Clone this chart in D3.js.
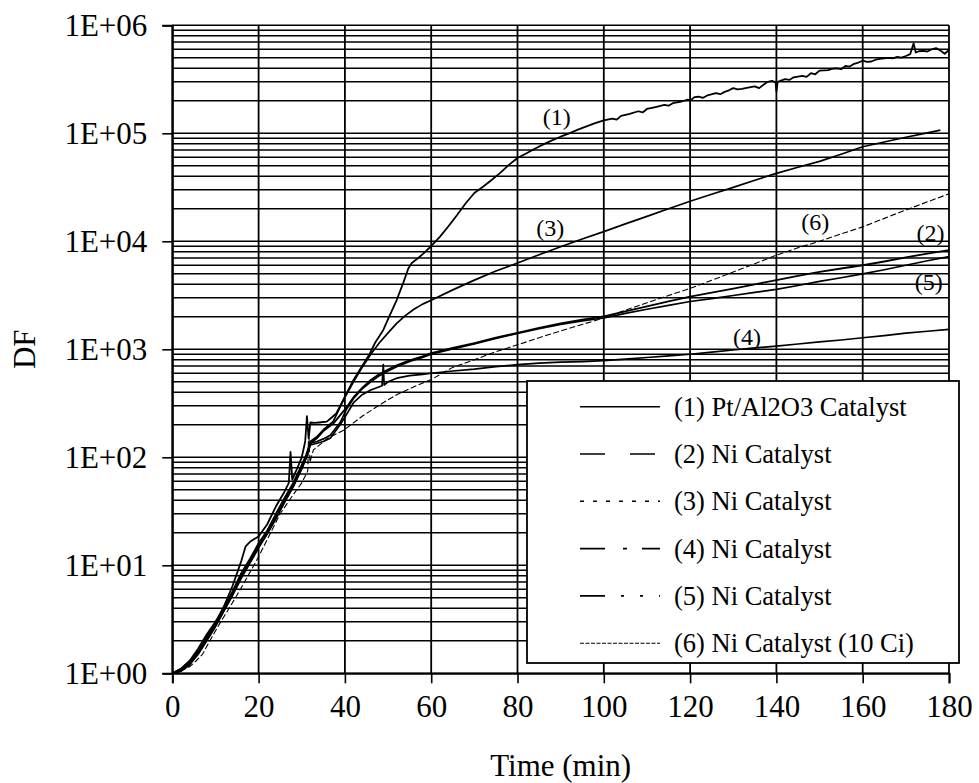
<!DOCTYPE html>
<html>
<head>
<meta charset="utf-8">
<script src="https://cdn.jsdelivr.net/npm/d3@7"></script>
<style>
  html, body { margin: 0; padding: 0; background: #fff; }
  svg { display: block; }
  text { font-family: "Liberation Serif", "Times New Roman", serif; fill: #000; }
</style>
</head>
<body>
<svg id="chart" width="979" height="783"></svg>
<script>
// Decontamination factor (DF) versus time for six catalyst runs.
// Each series is a list of [time (min), DF] pairs.

const xTickValues = [0, 20, 40, 60, 80, 100, 120, 140, 160, 180];
const yTickValues = [1, 10, 100, 1000, 10000, 100000, 1000000];
const yTickLabels = ["1E+00", "1E+01", "1E+02", "1E+03", "1E+04", "1E+05", "1E+06"];

const seriesNames = [
  "(1) Pt/Al2O3 Catalyst",
  "(2) Ni Catalyst",
  "(3) Ni Catalyst",
  "(4) Ni Catalyst",
  "(5) Ni Catalyst",
  "(6) Ni Catalyst (10 Ci)"
];

const run1 = [
  [0, 1], [2, 1.1], [4, 1.3], [6, 1.6], [8, 2.2], [10, 2.9], [12, 4.2], [14, 6.5],
  [16, 11], [17, 15], [18, 16.5], [19, 17.5], [20, 18.5], [22, 24], [24, 35], [26, 48],
  [27, 58], [27.4, 112], [27.8, 62], [29, 80], [30, 100], [30.8, 140], [31.2, 240],
  [31.6, 150], [32, 210], [33, 208], [34, 210], [35.8, 214], [37, 235], [38, 255],
  [40.4, 390], [42, 520], [44, 700], [45.8, 916], [47, 1150], [48.9, 1510], [50, 1900],
  [52, 2860], [53.5, 4100], [54.7, 5600], [55.5, 6300], [57, 7000], [58.5, 7900],
  [59.8, 8900], [62, 11000], [64, 13800], [66, 17500], [68, 22500], [70, 28000],
  [72, 32000], [74, 37000], [76, 43000], [78, 51000], [80, 59000], [82, 65000],
  [84, 72000], [86, 79000], [88, 86000], [90, 93000], [92, 100000], [94, 108000],
  [96, 116000], [98, 124000], [100, 132000], [102, 137000], [103, 134000], [104, 145000],
  [106, 151000], [108, 160000], [109, 156000], [110, 168000], [112, 175000], [114, 183000],
  [115, 180000], [116, 190000], [118, 197000], [119.5, 205000], [120, 200000], [121, 216000],
  [122, 218000], [123, 213000], [124, 224000], [126, 235000], [127, 230000], [128, 242000],
  [129, 250000], [130, 262000], [131, 255000], [132, 258000], [134, 268000], [135, 272000],
  [136, 262000], [137, 282000], [138, 300000], [139, 306000], [139.8, 296000], [140, 245000],
  [140.3, 300000], [142, 318000], [143, 312000], [144, 330000], [146, 340000], [147, 333000],
  [148, 360000], [149, 352000], [150, 380000], [152, 385000], [153, 396000], [154, 400000],
  [155, 392000], [156, 420000], [157, 415000], [158, 440000], [159, 452000], [160, 470000],
  [161, 458000], [162, 462000], [163, 480000], [164, 490000], [166, 500000], [167, 495000],
  [168, 510000], [169, 503000], [170, 520000], [171, 540000], [171.8, 680000],
  [172.3, 560000], [173, 575000], [174, 580000], [175, 572000], [176, 600000],
  [177, 615000], [178, 585000], [179, 545000], [180, 590000]
];

const run2 = [
  [0, 1], [2, 1.05], [4, 1.25], [6, 1.6], [8, 2.1], [10, 2.8], [12, 3.9], [14, 5.5],
  [16, 8], [18, 11], [20, 15], [22, 20], [24, 28], [26, 40], [28, 55], [30, 80],
  [31, 100], [32, 135], [33.5, 150], [35, 175], [37.3, 205], [40.4, 290], [42, 360],
  [44, 440], [46, 520], [48, 590], [50, 650], [52, 710], [55, 790], [58, 860],
  [60, 920], [65, 1030], [70, 1140], [75, 1280], [80, 1420], [85, 1580], [90, 1740],
  [95, 1880], [100, 2020], [105, 2250], [110, 2500], [115, 2780], [120, 3080],
  [125, 3350], [130, 3650], [135, 4000], [140, 4370], [145, 4780], [150, 5200],
  [155, 5600], [160, 6000], [165, 6500], [170, 7100], [175, 7700], [180, 8300]
];

const run3 = [
  [0, 1], [2, 1.1], [4, 1.3], [6, 1.7], [8, 2.3], [10, 3.0], [12, 4.1], [14, 5.8],
  [16, 8.5], [18, 11.5], [20, 16], [22, 21], [24, 30], [26, 42], [28, 58], [30, 85],
  [31, 105], [32, 140], [33.5, 155], [35, 180], [37.3, 215], [40, 360], [42, 500],
  [44, 680], [46, 900], [48, 1150], [50, 1420], [52, 1740], [54, 2050], [56, 2350],
  [58, 2620], [60, 2850], [65, 3550], [70, 4370], [75, 5300], [80, 6300], [85, 7500],
  [90, 8900], [95, 10500], [100, 12300], [105, 14500], [110, 17000], [115, 20000],
  [120, 23500], [125, 27300], [130, 31600], [135, 36800], [140, 42600], [145, 48500],
  [150, 55000], [155, 64000], [160, 75000], [165, 83000], [170, 92000], [175, 101000],
  [178, 107000]
];

const run4 = [
  [0, 1], [2, 1.05], [4, 1.2], [6, 1.5], [8, 2.0], [10, 2.7], [12, 3.8], [14, 5.3],
  [16, 7.6], [18, 10.5], [20, 14.5], [22, 19.5], [24, 27], [26, 38], [28, 53], [30, 78],
  [31, 98], [32, 130], [33.5, 135], [35, 140], [36.6, 150], [38.9, 200], [40.4, 250],
  [42, 320], [44, 380], [46, 420], [48, 450], [48.6, 460], [48.9, 720], [49.1, 465],
  [50, 500], [52, 540], [55, 570], [58, 585], [60, 600], [65, 630], [70, 655], [75, 690],
  [80, 720], [85, 745], [90, 760], [95, 770], [100, 785], [105, 810], [110, 840],
  [115, 870], [120, 900], [125, 940], [130, 985], [135, 1030], [140, 1070], [145, 1120],
  [150, 1170], [155, 1220], [160, 1280], [165, 1340], [170, 1410], [175, 1470], [180, 1530]
];

const run5 = [
  [0, 1], [2, 1.05], [4, 1.2], [6, 1.55], [8, 2.05], [10, 2.75], [12, 3.8], [14, 5.4],
  [16, 7.8], [18, 10.8], [20, 14.8], [22, 20], [24, 27.5], [26, 39], [28, 54], [30, 79],
  [31, 99], [32, 135], [33.5, 140], [35, 148], [36.6, 160], [38.9, 210], [40.4, 280],
  [42, 350], [44, 430], [46, 500], [48, 570], [50, 630], [52, 690], [55, 770],
  [58, 840], [60, 900], [65, 1010], [70, 1120], [75, 1260], [80, 1400], [85, 1550],
  [90, 1700], [95, 1830], [100, 1950], [105, 2150], [110, 2350], [115, 2550],
  [120, 2770], [125, 2950], [130, 3150], [135, 3370], [140, 3590], [145, 3900],
  [150, 4250], [155, 4600], [160, 5000], [165, 5450], [170, 6000], [175, 6600], [180, 7200]
];

const run6 = [
  [0, 1], [2, 1.05], [4, 1.15], [5.5, 1.3], [7, 1.5], [9, 2.1], [11, 2.9], [13, 3.9],
  [15, 5.3], [17, 7.3], [20, 12], [22.5, 19], [25, 30], [27.5, 42], [30, 58],
  [31.4, 75], [31.6, 180], [31.9, 90], [32.7, 117], [36, 150], [39.7, 178], [44, 240],
  [48, 305], [52, 380], [56, 450], [60, 525], [65, 680], [70, 800], [75, 950],
  [80, 1100], [85, 1280], [90, 1480], [95, 1700], [100, 1950], [105, 2300], [110, 2700],
  [115, 3150], [120, 3660], [125, 4350], [130, 5200], [135, 6200], [140, 7450],
  [145, 8700], [150, 10000], [155, 11700], [160, 13600], [165, 16300], [170, 19500],
  [175, 23200], [180, 27500]
];

// Curve annotations, anchored in data coordinates [time, DF]
const curveLabels = [
  ["(1)", 89.1, 142500],
  ["(3)", 87.6, 13200],
  ["(6)", 149, 15200],
  ["(2)", 175.7, 11900],
  ["(5)", 175.3, 4230],
  ["(4)", 133.2, 1310]
];

const allRuns = [run1, run2, run3, run4, run5, run6];

// ---- layout ----
const svg = d3.select("#chart");
const plotLeft = 172.3, plotRight = 949, plotTop = 25.3, plotBottom = 673.3;

const x = d3.scaleLinear().domain([0, 180]).range([plotLeft, plotRight]);
const y = d3.scaleLog().domain([1, 1e6]).range([plotBottom, plotTop]);

// ---- grid ----
const grid = svg.append("g");
const minorVals = [];
for (let e = 0; e < 6; e++) {
  for (let k = 1; k <= 9; k++) minorVals.push(k * Math.pow(10, e));
}
minorVals.push(1e6);

grid.selectAll("line.h").data(minorVals).join("line")
  .attr("class", "h")
  .attr("x1", plotLeft).attr("x2", plotRight)
  .attr("y1", d => y(d)).attr("y2", d => y(d))
  .attr("stroke", "#000").attr("stroke-width", 1.4);

grid.selectAll("line.v").data(xTickValues).join("line")
  .attr("class", "v")
  .attr("x1", d => x(d)).attr("x2", d => x(d))
  .attr("y1", plotTop).attr("y2", plotBottom)
  .attr("stroke", "#000").attr("stroke-width", 1.8);

// ---- axes ----
const xAxis = d3.axisBottom(x).tickValues(xTickValues).tickSize(10).tickPadding(12)
  .tickFormat(d3.format("d"));
const gx = svg.append("g").attr("transform", `translate(0,${plotBottom})`).call(xAxis);
gx.select(".domain").attr("stroke-width", 2);
gx.selectAll(".tick line").attr("stroke-width", 1.6);
gx.selectAll(".tick text").attr("font-size", 31).attr("font-family", "Liberation Serif")
  .attr("dy", "0.71em");

const yAxis = d3.axisLeft(y).tickValues(yTickValues).tickSize(10).tickPadding(15)
  .tickFormat((d, i) => yTickLabels[i]);
const gy = svg.append("g").attr("transform", `translate(${plotLeft},0)`).call(yAxis);
gy.select(".domain").attr("stroke-width", 2);
gy.selectAll(".tick line").attr("stroke-width", 1.6);
gy.selectAll(".tick text").attr("font-size", 31).attr("font-family", "Liberation Serif");

// ---- series lines ----
const line = d3.line().x(d => x(d[0])).y(d => y(d[1]));
const lineStyles = [
  { w: 1.8, dash: null },
  { w: 1.8, dash: null },
  { w: 1.7, dash: null },
  { w: 1.7, dash: null },
  { w: 1.7, dash: null },
  { w: 1.1, dash: "6,2.5" }
];

svg.append("g").selectAll("path").data(allRuns).join("path")
  .attr("d", line)
  .attr("fill", "none")
  .attr("stroke", "#000")
  .attr("stroke-linejoin", "round")
  .attr("stroke-width", (d, i) => lineStyles[i].w)
  .attr("stroke-dasharray", (d, i) => lineStyles[i].dash);

// ---- curve labels ----
svg.append("g").selectAll("text").data(curveLabels).join("text")
  .attr("x", d => x(d[1])).attr("y", d => y(d[2]))
  .attr("text-anchor", "middle").attr("dominant-baseline", "central")
  .attr("font-size", 24)
  .text(d => d[0]);

// ---- legend ----
const legendDash = [
  null,
  "25,25",
  "4,9",
  "25,18,4,15,20",
  "25,16,3,16,3,16,3",
  "4,1.5"
];
const legend = svg.append("g");
legend.append("rect")
  .attr("x", 527).attr("y", 381).attr("width", 432).attr("height", 282)
  .attr("fill", "#fff").attr("stroke", "#000").attr("stroke-width", 1.8);

const rowY = i => 406.7 + i * 47.3;
legend.selectAll("line").data(seriesNames).join("line")
  .attr("x1", 580).attr("x2", 660)
  .attr("y1", (d, i) => rowY(i)).attr("y2", (d, i) => rowY(i))
  .attr("stroke", "#000")
  .attr("stroke-width", (d, i) => i === 5 ? 1.1 : 1.6)
  .attr("stroke-dasharray", (d, i) => legendDash[i]);

legend.selectAll("text").data(seriesNames).join("text")
  .attr("x", 674).attr("y", (d, i) => rowY(i))
  .attr("dominant-baseline", "central")
  .attr("font-size", 26.5)
  .text(d => d);

// ---- axis titles ----
svg.append("text")
  .attr("x", (plotLeft + plotRight) / 2).attr("y", 776)
  .attr("text-anchor", "middle").attr("font-size", 31)
  .text("Time (min)");

svg.append("text")
  .attr("transform", `translate(35,${(plotTop + plotBottom) / 2}) rotate(-90)`)
  .attr("text-anchor", "middle").attr("font-size", 31)
  .text("DF");
</script>
</body>
</html>
